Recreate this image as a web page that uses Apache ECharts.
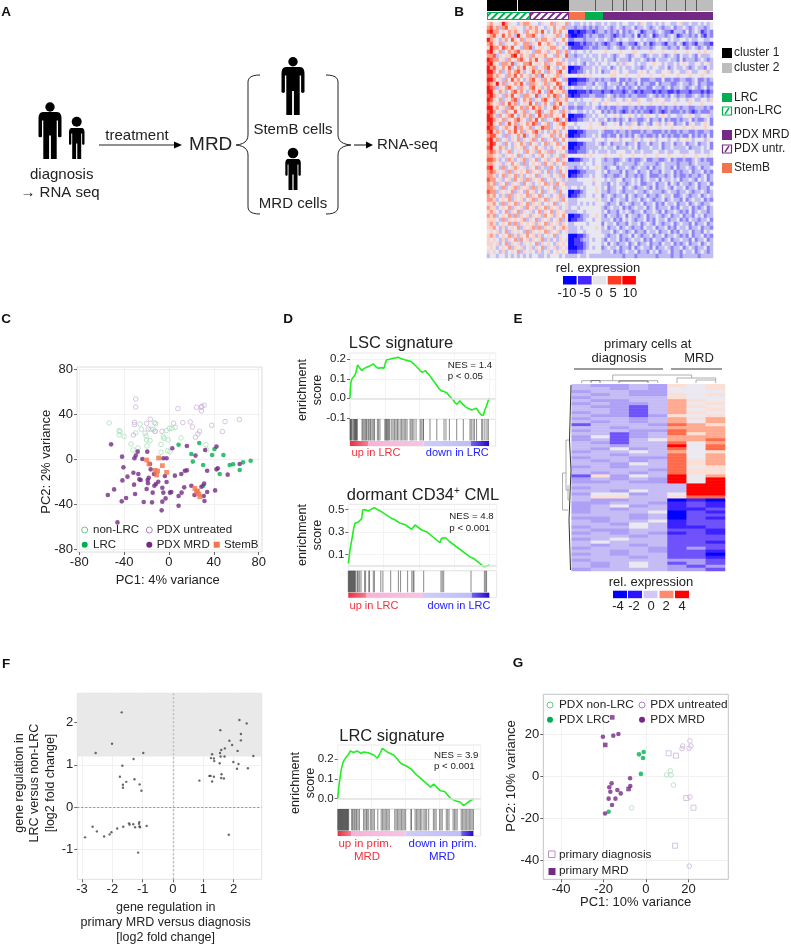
<!DOCTYPE html>
<html><head><meta charset="utf-8">
<style>html,body{margin:0;padding:0;background:#fff}#c{width:791px;height:945px}</style>
<script src="https://cdn.jsdelivr.net/npm/echarts@6/dist/echarts.min.js"></script>
</head><body><div id="c"></div>
<script>
// ---------- DATA ----------
// Panel B heatmap (digit code 0 = -10 ... 8 = +10), read coarsely from the picture; zones: PDX untreated/non-LRC, StemB+LRC, PDX MRD
const heatB = [
"564458654435665443544635446 34334343433 4343343443343543343434433453343343434",
"675636745544356564435464563 33233232323 3432343233423343234323342334323433234",
"786645465654364565743465645 00101122123 3232324232343123323432213332423431232",
"567547465385466754354456346 10011232332 2332123233241323412332343123323242132",
"865435647546355435664534464 22333233343 3432343443344343334344343344343344334",
"675463544654663547456543546 00112122323 2123321332213423123321332431232133221",
"586647657443667345545665434 21111223223 3323432234232333234433233243234323423",
"785463465675454366453546356 34344343444 4544445444554444544454445444544454544",
"667354557846453645564436547 33233434334 3343234432344323433432343243343243334",
"876645364567546574536645435 33343333434 3433243332433432324333433242333234323",
"785436657354667455463546654 34343243343 4434435354434334454434334345433443453",
"867546473465745634567453465 00112333434 3342343433433234344334234334323433243",
"886463564675345756436546745 01122343434 2334543443334543443344534433543344534",
"775654365746453563745456354 44454545444 4445544454445444544454444544454445444",
"886453647564356745364675436 00011123323 2332242232334222332242232233223422323",
"765846354657436654563547645 01122233243 3243332423324233224233322343323423322",
"876354675436546745356465734 34333433434 3233423232342332243323423343234323423",
"885465346756435657436745563 00011121222 1221222123212122212122112122212221212",
"786543657453665473546576346 10112223322 2343232232332223432323243233223432323",
"875463546734656354675436556 44343444544 3453344354335443345443344344354334435",
"764536475634557463564365745 33433343443 4544454445445444544454445444454445444",
"885645367546364756534576435 22322333432 3232233223323232223232332323322333232",
"786453654745635467345654365 34433434344 2323232123232322123212322232321232223",
"875364567435656347563645474 00111233434 4344543445434345443454344334454334453",
"886546354675436574635467346 01122334343 3423232342332234233242322323342322342",
"785463574635465763456345675 44344445445 2344542433542343245343542334254334542",
"876345654736456345766345464 33434445444 4544445445445445444544454445445444544",
"785653465746354675343565345 00011233334 3222323323222323322232322323322322332",
"677543635465734563544635646 00112233434 2232242323243232232423232232242323242",
"785634535463545634635463464 33344444344 4344543444354344543444344344543444354",
"687453643546536453463546345 00011233343 2342333423342334233423342334233423342",
"785465343545634564535345465 00112233334 3433423334342333433423343333423334342",
"676534563454364536453634543 11122234343 3343344433433433344334334433344334334",
"665453545463545345645354365 44444545444 4544445444544454445444544445444544454",
"776534365345635463453546354 00112334344 3233223432322342233223423223223432322",
"665453546453634545364535463 33334344344 3333234333323433332343333233323433332",
"785436345654535463533643545 33233434454 3234423343234332423343324233432342334",
"676545363545463545346353645 00012233344 3423332423342334233243342323342334232",
"665346354635345463545345364 01122334344 3233223423323234222332342322323323423",
"766453453645363545634534535 33344444544 4343344233434234334243343423343243423",
"656354635453645345463536453 33333444344 3324343323434223342334243243323423342",
"665436345635453635345463545 34434344454 3423344234323343242334324334233423324",
"766354546354364534635453644 00112344454 3323343233343323433323433233432334323",
"656435363545463546345345635 01123344344 2343233424323342332343342234323342343",
"665345463545345635463545364 33344444454 3342343324334234323342343324234334232",
"556436354635463545345463545 33343434344 4323342343233423342324334233423432334",
"655345463545364535463545345 34434444444 3234334232343342342333423243342323423",
"565434635463545346354635453 33344344444 3423324343233423343242334323242343323",
"656345463635453545364535464 00112334454 3243323424332342334323423342332434233",
"555436354545635463545345635 01122344344 3334232434323342324334233423243323342",
"565345463635454535463545354 33444434444 2433423324334234324323342343324233423",
"556435345463545636354534565 33343444454 3423342343233243342334232433423342332",
"454534635454363545463545345 33344344444 3334234323423324334233423243342332434",
"565345463535464535345463544 00011234444 4323342334243233423342334323242334232",
"545435354636453545635343545 00112334344 3243342323433423243323423343324233423",
"554534635453545463545435454 00111234444 3424323342342334233243342323423342343",
"454345463545345354635453545 00011234344 2343342332423433242334323342343233423",
"545435345463545435345345454 11122344444 3334232343342332434233423324334234323",
"344344343434343443343444343 33343343333 3333333233323333332333323323333323333"];
const heatBZones=[27,11,37];
const clusterBlocks = [15.5,25.5,13.5,8.5,5.5,1.5,8,6.5,5.5,9.5,5.5,8];
const groupBlocks = [["non-LRC",21.5],["PDX untr.",19.5],["StemB",8],["LRC",9],["PDX MRD",55]];

// Panel C PCA
const cNonLRC=[[-53.3,32.3],[-44.4,25.5],[-43.6,24.6],[-44.4,21.6],[-40,20.4],[-33.8,13.6],[-32,8.3],[-27.6,10.1],[-29.6,23.4],[-25.8,31.4],[-24.6,26.7],[-21.3,23.1],[-20.4,20.7],[-19.9,17.2],[-16.9,16.6],[-19.6,11.9],[-16,26.7],[-13.9,26.7],[-12.1,24.9],[-13,32.6],[-7.1,13.3],[-7.1,6.2],[-5,20.1],[-4.4,18.7],[-2.4,25.5],[-0.6,17.2],[0.6,27.6],[2.7,27.6],[5.6,28.4],[10.7,19],[-1.2,7.7],[0.9,6.8],[32.9,13],[33.8,8.3]];
const cUntreated=[[-29.6,53.6],[-29.6,46.5],[-30.8,32.9],[-30.8,30.8],[-31.7,21.6],[-19.9,32],[-18.4,27],[-16.6,35.6],[-11.9,31.7],[-12.4,24.9],[-6.2,24.9],[4.1,32],[8,45],[12.4,32.6],[19,33.2],[21,28.7],[24.6,46.2],[28.7,46.2],[29.3,47.1],[29,43],[31.4,48],[27.3,24.9],[25.8,22.5],[23.7,19.6],[38.2,30.2],[47.7,24.6],[50,33.5],[62.8,35.3]];
const cLRC=[[8.6,13],[27,14.5],[20,4.7],[21.3,-2],[30.5,-5],[40.6,9.2],[38.5,3.9],[48.6,3.9],[45.3,-13],[54.2,-5],[57.2,-4.4],[63.1,-9.5],[66.1,-2.7],[72.9,-1.2],[30.5,-23.4]];
const cMRD=[[-51.6,13.3],[-41.8,2.4],[-30.8,.9],[-29.6,3.3],[-27.9,6.8],[-19.3,6.8],[-23.7,.3],[-40.6,-7.1],[-31.7,-11.9],[-27.3,-13],[-37,-15.4],[-41.5,-18.7],[-31.1,-22.5],[-26.4,-17.8],[-25.2,-18.4],[-19,-18.4],[-18,-16.3],[-18.7,-21.3],[-19.9,-26.4],[-54.5,-31.7],[-48.9,-26.7],[-42.1,-37.3],[-38.2,-34.4],[-30.2,-30.8],[-22.5,-37.9],[-15.1,-38.2],[-14.5,-29.6],[-13,-23.4],[-11.6,-21.9],[-9.5,-19.9],[-13.3,-13],[-16.3,-8.9],[-16.9,-4.1],[-5,.9],[-2.1,.9],[3,9.8],[16,11.9],[23.7,3.3],[32.3,8.3],[42.4,11.3],[-3.6,-14.8],[-2.1,-20.1],[-5.9,-25.2],[-5,-29.6],[.9,-29.6],[-3,-34.7],[-5.9,-37.6],[-6.5,-45.3],[2.1,-29],[5.3,-14.5],[11,-13],[14.2,-10.1],[16,-9.8],[8.6,-32.6],[8.6,-41.2],[11.3,-29.6],[13.6,-24.9],[20,-23.4],[29,-24.3],[31.4,-21.6],[34.1,-29],[31.1,-32.6],[31.7,-37],[41.2,-27.6],[34.1,-10.1],[42.4,-8.9],[43.6,-8],[52.4,-13.6],[63.1,-4.1],[-45.9,-56],[22.8,-31.7]];
const cStemB=[[-19.9,-.6],[-17.8,-4.1],[-9.2,1.2],[-5.9,-5.6],[-12.4,-9.8],[-10.1,-10.4],[-11,-13.9],[-2.1,-11.6],[23.1,-25.8],[25.5,-28.1],[26.7,-30.8],[27.6,-33.2],[24.6,-29]];
const tickC=[-80,-40,0,40,80];

// Panel D / LRC GSEA curves [rank %, enrichment score]
const lscCurve=[[0,0],[.3,.05],[.7,.085],[1.5,.1],[2.4,.11],[3.2,.115],[4.1,.128],[4.8,.15],[5.5,.171],[6.5,.16],[7.4,.15],[8.4,.142],[10,.152],[12,.159],[14,.165],[16.8,.176],[18.5,.162],[20.4,.154],[22.5,.157],[24.5,.154],[25.4,.18],[26.4,.197],[28.5,.2],[31,.205],[33,.207],[34.5,.21],[37,.203],[39.3,.197],[41.5,.193],[44,.188],[46.5,.172],[49,.154],[50.5,.142],[52,.133],[54.2,.142],[55.5,.13],[57,.12],[59.5,.095],[62.3,.068],[64,.05],[65.9,.038],[67.5,.035],[69.5,.029],[72,.008],[74.3,-.009],[75.5,-.022],[77,-.03],[79,-.012],[81,-.03],[83,-.043],[84.5,-.05],[86,-.055],[87.5,-.06],[88.7,-.068],[91,-.051],[92.7,-.07],[94.5,-.085],[96,-.087],[97,-.06],[98,-.043],[99,-.04],[100,0]];
const cmlCurve=[[0,.02],[.6,.07],[1.2,.14],[2.9,.26],[3.8,.33],[4.7,.378],[7.1,.39],[8.5,.4],[9.5,.42],[10.2,.497],[12,.5],[14.2,.488],[15.5,.482],[18.4,.518],[21.3,.497],[24,.478],[25,.467],[29.8,.428],[33,.41],[36.9,.378],[40,.368],[41.6,.354],[45,.324],[47.3,.363],[52,.318],[55.5,.303],[65,.204],[66,.243],[69,.249],[72,.213],[86.5,.076],[88.9,.064],[96,-.01],[98.3,-.005],[100,.005]];
const lrcCurve=[[0,0],[.8,.06],[2.2,.13],[3,.16],[4.1,.188],[6.5,.213],[8,.225],[9.3,.242],[11.8,.234],[14.2,.242],[17.4,.229],[19,.237],[23,.232],[26.8,.22],[29.2,.205],[30.4,.213],[31.6,.235],[32.9,.255],[36.5,.237],[41.5,.22],[44,.2],[46.4,.18],[51.3,.163],[54.2,.15],[57.3,.126],[61,.104],[68.4,.059],[70.7,.074],[75.7,.04],[78.8,.037],[83,.003],[86.7,-.01],[90.4,-.018],[92.8,-.035],[96,-.018],[100,0]];
// Gene hit positions (rank %)
const lscHits=[0,.4,.8,1.2,2,2.6,3.2,3.6,4,4.4,4.8,5.2,8.6,9.2,10,10.8,11.5,12,13,13.6,14.5,15,16,17,17.6,19.7,20.5,21.5,25,25.6,26.2,26.8,27.4,28,28.6,30,31,32,33,34,34.6,36,37,38,39,40,41,43.2,44,45,46,47.5,50.4,51.2,52.5,52.8,57.5,62.4,67.6,69,71.5,76.7,81.5,86.3,87.2,88.5,89.5,91,94.7,95.5,97,98.5,99.5];
const cmlHits=[0,.4,.8,1.2,1.6,2,2.4,2.8,3.2,3.6,4,4.4,4.8,5.4,6.5,7,8,9,11.5,12.2,14.5,15,17.7,18.5,23,24.5,30,35.5,37,42,45,46,46.5,53.4,65.7,66.6,67.6,87,96.5,97.4,98];
const lrcHits=[0,.4,.8,1.2,1.6,2,2.4,2.8,3.2,3.6,4,4.4,4.8,5.2,5.6,6,6.4,6.8,7.2,7.6,8,10.3,10.8,11.8,12.5,13.4,14,15,16,19,20,21,21.6,22.5,24,25,26,27,29.5,32,33,34,35,36,37,38,42,43,44,45,46,47,48,49,50,54,54.2,57,58,59,60,61,62,63.5,64.5,65.5,67,70.5,71.5,72.5,75,76,77,80,81,82,85,86,87,88,91,92,93,94,95,96,97,98,99,100];
const lscStrip=[0,13,53,87,100], cmlStrip=[0,13,53,87.5,100], lrcStrip=[0,10,50,91,100];

// Panel E heatmap (digit code 0 = -4 ... 9 = +4): 5 diagnosis + 3 MRD samples
const heatE=["43343 656","44343 556","34433 555","43433 656","34444 655","43344 765","34334 756","43324 765","44324 756","34324 765","43323 656","34434 767","43434 757","24443 876","44344 777","34433 877","44234 867","35234 777","34245 778","43244 857","44344 958","43534 858","34454 756","44344 857","34433 857","43434 867","44354 867","34344 856","44443 866","43434 866","26354 957","34343 959","33433 959","44444 499","34444 499","44354 499","35534 599","46644 688","43344 010","33443 121","34534 121","34344 112","34445 021","44434 022","33434 021","43445 122","44354 122","34454 112","43344 221","34343 121","44434 222","34544 222","45444 221","43434 222","34443 232","44343 221","34344 220","44434 221","34444 332","43454 232","43454 323","34444 332"];

// Panel F gene scatter
const fGenes=[[-1.69,2.24],[-2.01,1.5],[-2.55,1.28],[-.98,1.28],[-1.3,1.14],[-1.67,.98],[-1.75,.72],[-1.27,.66],[-1.54,.6],[-1.65,.53],[-1.65,.46],[-1.1,.54],[-1.04,.39],[-2.9,-.71],[-2.65,-.46],[-2.51,-.57],[-2.27,-.69],[-2.09,-.64],[-2.03,-.59],[-1.84,-.5],[-1.64,-.46],[-1.45,-.38],[-1.43,-.41],[-1.31,-.4],[-1.25,-.47],[-1.11,-.35],[-1.1,-.45],[-1.09,-.47],[-1.12,-.39],[-.87,-.44],[-1.15,-1.07],[2.19,2.06],[2.43,1.98],[2.24,1.73],[2.24,1.58],[1.56,1.82],[1.86,1.57],[1.95,1.47],[2.13,1.33],[1.71,1.39],[1.59,1.35],[1.55,1.28],[1.7,1.2],[1.57,1.2],[1.29,1.25],[1.25,1.16],[1.35,1.15],[1.36,1.09],[1.54,1.04],[1.99,1.07],[2.16,1.02],[2.11,.91],[2.47,.92],[2.65,1.21],[.87,.63],[1.2,.74],[1.24,.74],[1.35,.72],[1.29,.61],[1.6,.78],[1.59,.69],[1.68,.68],[1.84,-.65]];
const fTicksX=[-3,-2,-1,0,1,2], fTicksY=[-1,0,1,2];

// Panel G PCA
const gNonLRC=[[-6.8,-15.2],[9.7,.5],[11.5,2.5],[11.8,.5],[12.9,-4.3]];
const gLRC=[[-3.3,10.3],[-1.1,11.4],[-1.4,8.6],[-2.4,1],[-17.6,-17]];
const gUntreated=[[20.7,16.7],[21.2,14.3],[20.3,13.2],[17.3,14.3],[17,13],[20.7,-10],[20.4,-42.9]];
const gMRD=[[-20.3,18.7],[-15.4,19.2],[-13,20],[-16.2,-3.5],[-17.3,-5.4],[-16.8,-7.5],[-13.5,-6.7],[-11.9,-8.3],[-17.6,-10.8],[-14.4,-10.8],[-16,-13.8],[-19.3,-17.9],[-7.5,-1.1],[-7.4,-4.8]];
const gPrimDiag=[[10.7,10.8],[14.1,9.7],[19,-10.5],[22.4,-15.1],[13.7,-33.2]];
const gPrimMRD=[[-15.9,27.9],[-19.2,14.8],[-8.2,-6.2]];
const gTicksX=[-40,-20,0,20], gTicksY=[-40,-20,0,20];

// ---------- STYLE ----------
const FONT='"Liberation Sans",Arial,sans-serif';
const GREEN='#00b050', LGREEN='#a9dfbb', PURPLE='#742a85', LPURPLE='#cdb4da', ORANGE='#f5734a';
const colorsB=['#0a0aff','#4a3aff','#8d84f8','#c0bcf4','#e8e6ef','#f9d3ca','#fb9d88','#fb5a40','#f71a18'];
const colorsE=['#0000ff','#3c22ff','#7052fa','#aea0f5','#c6bcf5','#ece8f0','#fbdfd4','#ffa98f','#ff6a4a','#ff0000'];

const grids=[],xAxes=[],yAxes=[],series=[],visualMaps=[],gfx=[];
function T(text,x,y,o={}){gfx.push({type:'text',x,y,rotation:o.rot||0,silent:true,z:50,style:{text,fontFamily:FONT,fontSize:o.size||13,fill:o.color||'#222',fontWeight:o.weight||'normal',textAlign:o.align||'center',textVerticalAlign:'middle',rich:o.rich}});}
function L(pts,o={}){gfx.push({type:'polyline',silent:true,z:40,shape:{points:pts},style:{stroke:o.color||'#222',lineWidth:o.w||1,fill:null}});}
function R(x,y,w,h,fill,o={}){gfx.push({type:'rect',silent:true,z:40,shape:{x,y,width:w,height:h},style:{fill,stroke:o.stroke||null,lineWidth:o.lw||1}});}
// Small outline helper: M/L/Q/Z commands sampled to points (the graphic component has no path type)
function Path(d,o={}){
  const toks=d.match(/[MLQZ]|-?[\d.]+/g),pts=[];let i=0;
  while(i<toks.length){const c=toks[i++];
    if(c==='M'||c==='L'){pts.push([+toks[i],+toks[i+1]]);i+=2;}
    else if(c==='Q'){const p=pts[pts.length-1],cx=+toks[i],cy=+toks[i+1],x=+toks[i+2],y=+toks[i+3];i+=4;
      for(let k=1;k<=6;k++){const t=k/6,u=1-t;pts.push([u*u*p[0]+2*u*t*cx+t*t*x,u*u*p[1]+2*u*t*cy+t*t*y]);}}
  }
  if(o.fill===null) gfx.push({type:'polyline',silent:true,z:40,shape:{points:pts},style:{fill:null,stroke:o.stroke||'#222',lineWidth:o.w||1}});
  else gfx.push({type:'polygon',silent:true,z:40,shape:{points:pts},style:{fill:o.fill||'#000'}});
}
function C(x,y,r,fill,stroke){gfx.push({type:'circle',silent:true,z:40,shape:{cx:x,cy:y,r},style:{fill:fill||'transparent',stroke:stroke||null,lineWidth:1}});}

function addGrid(l,t,w,h,x,y,frame){
  const i=grids.length;
  grids.push({left:l,top:t,width:w,height:h,show:!!frame,borderColor:frame||'#ddd',borderWidth:1,backgroundColor:'transparent',containLabel:false});
  xAxes.push(Object.assign({gridIndex:i},x)); yAxes.push(Object.assign({gridIndex:i},y));
  return i;
}
function numAxis(min,max,ticks,size){
  return {type:'value',min,max,axisLine:{show:false,onZero:false},
    axisTick:{show:true,length:3,lineStyle:{color:'#444',width:.8},customValues:ticks},
    axisLabel:{show:true,customValues:ticks,fontSize:size||13,color:'#222',fontFamily:FONT,margin:4,showMinLabel:true,showMaxLabel:true},
    splitLine:{show:true,lineStyle:{color:'#f1f1f1',width:1}}};
}
const hiddenCat=n=>({type:'category',show:false,data:Array.from({length:n},(_,i)=>i)});
const hiddenVal=(min,max)=>({type:'value',show:false,min,max});
function scat(i,data,sym,size,color,open){
  series.push({type:'scatter',xAxisIndex:i,yAxisIndex:i,data,symbol:sym,symbolSize:size,silent:true,animation:false,
    itemStyle:open?{color:'transparent',borderColor:color,borderWidth:1}:{color}});
}
function heat(l,t,w,h,rows,colors){
  const parsed=rows.map(r=>r.replace(/\s/g,''));
  const i=addGrid(l,t,w,h,hiddenCat(parsed[0].length),Object.assign(hiddenCat(parsed.length),{inverse:true}));
  const data=[]; parsed.forEach((r,y)=>[...r].forEach((c,x)=>data.push([x,y,+c])));
  visualMaps.push({type:'continuous',show:false,seriesIndex:series.length,min:0,max:colors.length-1,inRange:{color:colors},calculable:false});
  series.push({type:'heatmap',xAxisIndex:i,yAxisIndex:i,data,silent:true,animation:false,progressive:0,itemStyle:{borderWidth:0}});
}
function gseaPanel(c){
  const xmax=c.width/c.lineW*100;
  const ax={type:'value',min:0,max:xmax,interval:25,axisLine:{show:false,onZero:false},axisTick:{show:false},axisLabel:{show:false},splitLine:{show:true,lineStyle:{color:'#f3f3f3'}}};
  const yA=numAxis(c.ymin,c.ymax,c.ticks,11.5);
  yA.splitLine.lineStyle.color='#f3f3f3';
  yA.axisLabel.formatter=v=>v.toFixed(1);
  const i=addGrid(c.left,c.top,c.width,c.h1,ax,yA,'#e6e6e6');
  series.push({type:'line',xAxisIndex:i,yAxisIndex:i,data:c.curve,showSymbol:false,silent:true,animation:false,z:3,
    lineStyle:{color:'#22ee22',width:1.6},
    markLine:{silent:true,symbol:'none',animation:false,label:{show:false},lineStyle:{color:'#e2e2e2',width:1.5,type:'solid'},data:[{yAxis:0}]}});
  const j=addGrid(c.left,c.top+c.h1,c.width,c.h2,Object.assign({},ax,{splitLine:{show:false}}),hiddenVal(0,1),'#e6e6e6');
  series.push({type:'custom',xAxisIndex:j,yAxisIndex:j,silent:true,animation:false,data:c.hits.map(h=>[h,0]),encode:{x:0,y:1},
    renderItem:(p,api)=>{const a=api.coord([api.value(0),1]),b=api.coord([api.value(0),.2]);
      return {type:'rect',shape:{x:a[0]-.5,y:a[1],width:1.1,height:b[1]-a[1]},style:{fill:'rgba(0,0,0,.42)'}};}});
  const stripCols=[['#e8303c','#f2809a'],['#f8b2d8','#f8c4e4'],['#d0ccfa','#bfbdf8'],['#7664f2','#2408c4']];
  series.push({type:'custom',xAxisIndex:j,yAxisIndex:j,silent:true,animation:false,
    data:c.strip.slice(0,-1).map((s,k)=>[s,c.strip[k+1],k]),encode:{x:[0,1]},
    renderItem:(p,api)=>{const a=api.coord([api.value(0),.185]),b=api.coord([api.value(1),0]),k=api.value(2);
      return {type:'rect',shape:{x:a[0],y:a[1],width:b[0]-a[0],height:b[1]-a[1]},
        style:{fill:new echarts.graphic.LinearGradient(0,0,1,0,[{offset:0,color:stripCols[k][0]},{offset:1,color:stripCols[k][1]}])}};}});
}
function person(cx,headY,r,top,bottom,w){
  C(cx,headY,r,'#000');
  const l=cx-w/2,h=bottom-top,X=f=>(l+f*w).toFixed(1),Y=f=>(top+f*h).toFixed(1);
  Path(`M${X(.2)} ${Y(0)}L${X(.8)} ${Y(0)}Q${X(1)} ${Y(0)} ${X(1)} ${Y(.14)}L${X(1)} ${Y(.52)}Q${X(.92)} ${Y(.56)} ${X(.85)} ${Y(.52)}L${X(.85)} ${Y(.18)}L${X(.79)} ${Y(.18)}L${X(.79)} ${Y(1)}L${X(.54)} ${Y(1)}L${X(.54)} ${Y(.5)}L${X(.46)} ${Y(.5)}L${X(.46)} ${Y(1)}L${X(.21)} ${Y(1)}L${X(.21)} ${Y(.18)}L${X(.15)} ${Y(.18)}L${X(.15)} ${Y(.52)}Q${X(.08)} ${Y(.56)} ${X(0)} ${Y(.52)}L${X(0)} ${Y(.14)}Q${X(0)} ${Y(0)} ${X(.2)} ${Y(0)}Z`);
}

// ---------- PANEL LETTERS ----------
[['A',6,12],['B',459,12],['C',6,319],['D',288,319],['E',518,319],['F',6,664],['G',518,663]].forEach(a=>T(a[0],a[1],a[2],{size:13.5,weight:'bold',color:'#111'}));

// ---------- PANEL A ----------
person(50,107,4.7,112,159,23); person(76.7,121.7,5,128,159,15.5);
person(293,61.7,4.7,67,115,23); person(293,153,5.3,159,190,15.5);
T('diagnosis',61.7,175,{size:15}); T('→ RNA seq',60,193,{size:15});
T('treatment',137,136,{size:15});
L([[99,145],[176,145]],{w:1.1}); Path('M182 145L174 141.5L174 148.5Z',{fill:'#000'});
T('MRD',210.7,145,{size:19});
T('StemB cells',293,130,{size:15}); T('MRD cells',293,204,{size:15});
Path('M260 75Q248 75 248 82L248 135Q248 144 236 145Q248 146 248 155L248 207Q248 214 260 214',{fill:null,stroke:'#222',w:1});
Path('M326 75Q338 75 338 82L338 135Q338 144 351 145Q338 146 338 155L338 207Q338 214 326 214',{fill:null,stroke:'#222',w:1});
L([[354,145],[368,145]],{w:1.1}); Path('M373 145L366 141.5L366 148.5Z',{fill:'#000'});
T('RNA-seq',377,145,{size:15,align:'left'});

// ---------- PANEL B ----------
(function(){
  const L0=487,W0=226;
  const xA={type:'value',show:false,min:0,max:113};
  const i=addGrid(L0,0,W0,11,Object.assign({},xA),{type:'category',show:false,data:['cluster']});
  const grey='#bdbdbd',sep=.4;
  clusterBlocks.forEach((v,k)=>{
    const last=k===clusterBlocks.length-1, join=k===1;
    const w=(last||join)?v:v-sep;
    series.push({type:'bar',xAxisIndex:i,yAxisIndex:i,stack:'cl',barWidth:11,silent:true,animation:false,data:[{value:[w,'cluster']}],itemStyle:{color:k<2?'#000':grey}});
    if(!(last||join)) series.push({type:'bar',xAxisIndex:i,yAxisIndex:i,stack:'cl',barWidth:11,silent:true,animation:false,data:[{value:[sep,'cluster']}],itemStyle:{color:k<2?'#fff':'#333'}});
  });
  const i2=addGrid(L0,12,W0,8,Object.assign({},xA),{type:'category',show:false,data:['group']});
  const gcol={'non-LRC':[GREEN,true],'PDX untr.':[PURPLE,true],'StemB':[ORANGE],'LRC':[GREEN],'PDX MRD':[PURPLE]};
  groupBlocks.forEach(b=>{const c=gcol[b[0]];
    series.push({type:'bar',xAxisIndex:i2,yAxisIndex:i2,stack:'gr',barWidth:8,silent:true,animation:false,
      data:[{value:[b[1],'group']}],
      itemStyle:c[1]?{color:'#fff',borderColor:c[0],borderWidth:1,decal:{symbol:'rect',symbolSize:1,dashArrayX:[1,0],dashArrayY:[2,3],rotation:-Math.PI/4,color:c[0]}}:{color:c[0]}});
  });
  const rowsB=heatB.map(r=>r.split(' ').map((z,k)=>z.padEnd(heatBZones[k],'4').slice(0,heatBZones[k])).join(''));
  heat(L0,22,W0,236,rowsB,colorsB);
  const x0=722,tx=734;
  R(x0,48,10,10,'#000'); T('cluster 1',tx,53,{size:12,align:'left'});
  R(x0,63,10,10,'#bdbdbd'); T('cluster 2',tx,68,{size:12,align:'left'});
  R(x0,93,10,9,GREEN); T('LRC',tx,98,{size:12,align:'left'});
  R(x0+.5,107,9,8,'#fff',{stroke:GREEN,lw:1.2}); L([[x0+3,114],[x0+7,108]],{color:GREEN,w:1.4}); T('non-LRC',tx,111,{size:12,align:'left'});
  R(x0,130,10,10,PURPLE); T('PDX MRD',tx,135,{size:12,align:'left'});
  R(x0+.5,145,9,8,'#fff',{stroke:PURPLE,lw:1.2}); L([[x0+3,152],[x0+7,146]],{color:PURPLE,w:1.4}); T('PDX untr.',tx,149,{size:12,align:'left'});
  R(x0,163,10,10,ORANGE); T('StemB',tx,168,{size:12,align:'left'});
  T('rel. expression',598,268,{size:13});
  [[563,'#0000ff'],[578,'#4626ff'],[592.7,'#e4e4e8'],[607.7,'#ff3a1e'],[622.3,'#ff0000']].forEach(s=>R(s[0],276,13.6,8.5,s[1]));
  [['-10',567],['-5',585],['0',599],['5',613],['10',630]].forEach(s=>T(s[0],s[1],293,{size:13}));
})();

// ---------- PANEL C ----------
(function(){
  const i=addGrid(77,367,185,185,numAxis(-82,83,tickC),numAxis(-82.3,82,tickC),'#dcdcdc');
  scat(i,cNonLRC,'circle',4.6,LGREEN,true);
  scat(i,cUntreated,'circle',4.6,LPURPLE,true);
  scat(i,cLRC,'circle',4.6,GREEN);
  scat(i,cMRD,'circle',4.6,PURPLE);
  scat(i,cStemB,'rect',4.8,ORANGE);
  T('PC1: 4% variance',167.7,580,{size:13});
  T('PC2: 2% variance',46.7,461.7,{size:13,rot:Math.PI/2});
  C(84.7,530,3,null,'#66c988'); T('non-LRC',93,530,{size:11.5,align:'left'});
  C(84.7,544.7,3,GREEN); T('LRC',93,544.7,{size:11.5,align:'left'});
  C(149.3,530,3,null,'#a884bb'); T('PDX untreated',156.7,530,{size:11.5,align:'left'});
  C(149.3,544.7,3,PURPLE); T('PDX MRD',156.7,544.7,{size:11.5,align:'left'});
  R(213.7,541.7,6,6,ORANGE); T('StemB',224,544.7,{size:11.5,align:'left'});
})();

// ---------- PANEL D ----------
gseaPanel({left:350,top:353,width:145.7,h1:66,h2:27,lineW:139,ymin:-.106,ymax:.232,ticks:[-.1,0,.1,.2],curve:lscCurve,hits:lscHits,strip:lscStrip});
T('LSC signature',401,343.3,{size:16.5});
T('enrichment',302.7,390,{size:12.5,rot:Math.PI/2}); T('score',318,390,{size:12.5,rot:Math.PI/2});
T('NES = 1.4',447.7,365,{size:9.7,align:'left'}); T('p < 0.05',447.7,376.7,{size:9.7,align:'left'});
T('up in LRC',376,452.7,{size:11,color:'#f0303c'}); T('down in LRC',457.3,452.7,{size:11,color:'#2222ff'});

gseaPanel({left:348.3,top:504.3,width:148.4,h1:66.4,h2:27,lineW:141,ymin:-.046,ymax:.548,ticks:[.1,.3,.5],curve:cmlCurve,hits:cmlHits,strip:cmlStrip});
T('{a|dormant CD34}{b|+}{a| CML}',423,495,{rich:{a:{fontSize:16.5,fontFamily:FONT,fill:'#222',color:'#222'},b:{fontSize:10,fontFamily:FONT,color:'#222',verticalAlign:'top',padding:[0,0,6,0]}}});
T('enrichment',302.7,535,{size:12.5,rot:Math.PI/2}); T('score',318,535,{size:12.5,rot:Math.PI/2});
T('NES = 4.8',449.3,516,{size:9.7,align:'left'}); T('p < 0.001',449.3,528.3,{size:9.7,align:'left'});
T('up in LRC',374,605.7,{size:11,color:'#f0303c'}); T('down in LRC',459,605.7,{size:11,color:'#2222ff'});

// ---------- PANEL E ----------
heat(571.7,384.3,153.3,186.7,heatE,colorsE);
T('primary cells at',647.7,344,{size:13}); T('diagnosis',619,358.7,{size:13}); T('MRD',699,358.7,{size:13});
L([[574,369],[663,369]],{w:.9}); L([[671,369],[722,369]],{w:.9});
[[[612.7,380],[612.7,375],[691.7,375],[691.7,378]],[[581.7,383],[581.7,380.7],[657.7,380.7],[657.7,383]],[[677,383],[677,378],[715.7,378],[715.7,383]],[[696,383],[696,380],[715.7,380]]
].forEach(p=>L(p,{color:'#999',w:.8}));
L([[591,383],[591,380.5],[600,380.5],[600,383]],{color:'#666',w:.8});L([[619,383],[619,381],[648,381],[648,383]],{color:'#666',w:.8});
L([[571,385],[569.5,440],[571,470],[569,520],[570.5,570]],{color:'#333',w:1});
[[[562.5,510],[562.5,473],[566,473]],[[566,490],[566,440],[569,440]],[[566,490],[569,490]],[[562.5,510],[568,510]],[[568,485],[568,500],[570,500]]].forEach(p=>L(p,{color:'#999',w:.8}));
T('rel. expression',651,582,{size:13});
[[613,'#0000ff'],[628,'#2a14ff'],[643.5,'#d3c8f5'],[659.5,'#ff8a70'],[675,'#ff0000']].forEach(s=>R(s[0],590.7,14,7.5,s[1]));
[['-4',618],['-2',634],['0',651],['2',666],['4',682]].forEach(s=>T(s[0],s[1],606,{size:13}));

// ---------- PANEL F ----------
(function(){
  const i=addGrid(77.3,693.3,184.4,186,numAxis(-3.155,2.925,fTicksX),numAxis(-1.7,2.69,fTicksY),'#e2e2e2');
  series.push({type:'scatter',xAxisIndex:i,yAxisIndex:i,data:fGenes,symbol:'circle',symbolSize:2.4,silent:true,animation:false,itemStyle:{color:'#444'},
    markArea:{silent:true,animation:false,itemStyle:{color:'#e9e9e9'},data:[[{yAxis:1.2},{yAxis:2.69}]]},
    markLine:{silent:true,symbol:'none',animation:false,label:{show:false},data:[{yAxis:0,lineStyle:{color:'#777',type:[2,2],width:.8}},{xAxis:0,lineStyle:{color:'#bbb',type:[2,2],width:1.4}}]}});
  T('gene regulation in',20,783,{size:12.5,rot:Math.PI/2});
  T('LRC versus non-LRC',34.3,783,{size:12.5,rot:Math.PI/2});
  T('[log2 fold change]',51,783,{size:12.5,rot:Math.PI/2});
  T('gene regulation in',165.7,908,{size:12.5});
  T('primary MRD versus diagnosis',165.7,923,{size:12.5});
  T('[log2 fold change]',165.7,938,{size:12.5});
})();

// ---------- LRC SIGNATURE ----------
gseaPanel({left:337.7,top:745,width:143,h1:64,h2:27,lineW:135.7,ymin:-.052,ymax:.272,ticks:[0,.1,.2],curve:lrcCurve,hits:lrcHits,strip:lrcStrip});
T('LRC signature',392,736,{size:16.5});
T('enrichment',295.7,783,{size:12.5,rot:Math.PI/2}); T('score',310.7,783,{size:12.5,rot:Math.PI/2});
T('NES = 3.9',434,755,{size:9.7,align:'left'}); T('p < 0.001',434,766.7,{size:9.7,align:'left'});
T('up in prim.',365.3,844.3,{size:11.5,color:'#f0303c'}); T('MRD',367,856.7,{size:11.5,color:'#f0303c'});
T('down in prim.',442.7,844.3,{size:11.5,color:'#2222ff'}); T('MRD',442,856.7,{size:11.5,color:'#2222ff'});

// ---------- PANEL G ----------
(function(){
  const i=addGrid(543.3,694.3,185,185,numAxis(-48.4,38.8,gTicksX),numAxis(-49.2,38.9,gTicksY),'#c4c4c4');
  scat(i,gNonLRC,'circle',4.6,LGREEN,true);
  scat(i,gUntreated,'circle',4.6,LPURPLE,true);
  scat(i,gPrimDiag,'rect',5,LPURPLE,true);
  scat(i,gLRC,'circle',4.6,GREEN);
  scat(i,gMRD,'circle',4.6,PURPLE);
  scat(i,gPrimMRD,'rect',4.6,PURPLE);
  T('PC1: 10% variance',635.7,902.7,{size:13});
  T('PC2: 10% variance',511.7,776,{size:13,rot:Math.PI/2});
  C(550,705,3,null,'#66c988'); T('PDX non-LRC',559,705,{size:11.8,align:'left'});
  C(550,719.7,3,GREEN); T('PDX LRC',559,719.7,{size:11.8,align:'left'});
  C(642,705,3,null,'#a884bb'); T('PDX untreated',650.3,705,{size:11.8,align:'left'});
  C(642,719.7,3,PURPLE); T('PDX MRD',650.3,719.7,{size:11.8,align:'left'});
  R(548.5,851,6.5,6.5,'#fff',{stroke:'#b890c8',lw:1}); T('primary diagnosis',559,854.3,{size:11.8,align:'left'});
  R(548.5,868,7,7,PURPLE); T('primary MRD',559,871,{size:11.8,align:'left'});
})();

const chart=echarts.init(document.getElementById('c'),null,{renderer:'canvas',width:791,height:945});
chart.setOption({animation:false,backgroundColor:'#fff',textStyle:{fontFamily:FONT},grid:grids,xAxis:xAxes,yAxis:yAxes,series,visualMap:visualMaps,graphic:{elements:gfx}});
</script></body></html>
